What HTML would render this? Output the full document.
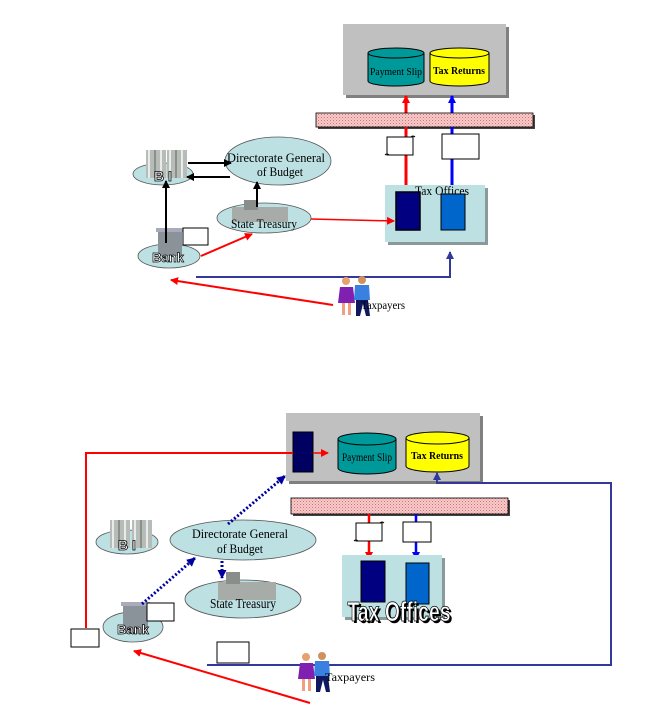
<!DOCTYPE html>
<html><head><meta charset="utf-8"><style>
html,body{margin:0;padding:0;background:#fff;width:666px;height:728px;overflow:hidden}
svg{display:block}
.s{font-family:"Liberation Serif",serif}
.b{font-family:"Liberation Sans",sans-serif;font-weight:bold}
</style></head><body>
<svg width="666" height="728" viewBox="0 0 666 728" xmlns="http://www.w3.org/2000/svg">
<defs>
<pattern id="h" width="3" height="3" patternUnits="userSpaceOnUse">
<rect width="3" height="3" fill="#f6caca"/><rect width="1" height="1" fill="#d87070"/><rect x="1.5" y="1.5" width="1" height="1" fill="#e09090"/>
</pattern>
<marker id="ar" markerWidth="8" markerHeight="8" refX="7" refY="4" orient="auto" markerUnits="userSpaceOnUse"><path d="M0,0 L8,4 L0,8 z" fill="#f00"/></marker>
<marker id="ab" markerWidth="8" markerHeight="8" refX="7" refY="4" orient="auto" markerUnits="userSpaceOnUse"><path d="M0,0 L8,4 L0,8 z" fill="#00f"/></marker>
<marker id="ak" markerWidth="8" markerHeight="8" refX="7" refY="4" orient="auto" markerUnits="userSpaceOnUse"><path d="M0,0 L8,4 L0,8 z" fill="#000"/></marker>
<marker id="an" markerWidth="8" markerHeight="8" refX="7" refY="4" orient="auto" markerUnits="userSpaceOnUse"><path d="M0,0 L8,4 L0,8 z" fill="#33399a"/></marker>
<marker id="ad" markerWidth="9" markerHeight="9" refX="8" refY="4.5" orient="auto" markerUnits="userSpaceOnUse"><path d="M0,0 L9,4.5 L0,9 z" fill="#0000a0"/></marker>
<g id="bldg"><rect x="0" y="0" width="20" height="28" fill="#b8bcb8"/><rect x="2" y="0" width="2" height="28" fill="#e8ece8"/><rect x="8" y="0" width="2" height="28" fill="#8a908a"/><rect x="14" y="0" width="2" height="28" fill="#e8ece8"/></g>
<g id="person">
<circle cx="9" cy="5" r="4" fill="#e8a070"/><path d="M3,11 h13 l2,16 h-17z" fill="#8020b0"/><rect x="5" y="27" width="3" height="12" fill="#f0a080"/><rect x="11" y="27" width="3" height="12" fill="#f0a080"/>
<circle cx="25" cy="4" r="4" fill="#d09060"/><path d="M18,9 h14 l1,15 h-16z" fill="#3a80e0"/><path d="M19,24 h12 l2,16 h-4 l-3,-12 l-3,12 h-4z" fill="#101860"/>
</g>
<g id="doc"><path d="M0,0 h24 v16 l-4,4 h-20z" fill="#fff" stroke="#000" stroke-width="1"/></g>
<g id="scroll"><path d="M2,2 h26 v18 h-26z" fill="#fff" stroke="#000"/><path d="M0,20 q2,-2 4,0 M26,2 q2,-2 4,0" fill="none" stroke="#000"/></g>
</defs>

<!-- ===== TOP DIAGRAM ===== -->
<rect x="346" y="27" width="163" height="71" fill="#808080"/>
<rect x="343" y="24" width="163" height="71" fill="#c0c0c0"/>
<path d="M368,53 v28 a28,5 0 0 0 56,0 v-28" fill="#009999" stroke="#000"/>
<ellipse cx="396" cy="53" rx="28" ry="5" fill="#009999" stroke="#000"/>
<text x="396" y="75" class="s" font-size="11" text-anchor="middle" textLength="52" lengthAdjust="spacingAndGlyphs">Payment Slip</text>
<path d="M430,53 v28 a29.5,5 0 0 0 59,0 v-28" fill="#ff0" stroke="#000"/>
<ellipse cx="459.5" cy="53" rx="29.5" ry="5" fill="#ff0" stroke="#000"/>
<text x="459" y="74" class="s" font-size="10" font-weight="bold" text-anchor="middle" textLength="52" lengthAdjust="spacingAndGlyphs">Tax Returns</text>

<line x1="406" y1="113" x2="406" y2="96" stroke="#f00" stroke-width="3" marker-end="url(#ar)"/>
<line x1="452" y1="113" x2="452" y2="96" stroke="#00f" stroke-width="3" marker-end="url(#ab)"/>
<rect x="318" y="115" width="217" height="14" fill="#444"/>
<rect x="316" y="113" width="217" height="14" fill="url(#h)" stroke="#000" stroke-width="0.8"/>
<line x1="406" y1="127" x2="406" y2="186" stroke="#f00" stroke-width="3"/>
<line x1="452" y1="127" x2="452" y2="186" stroke="#00f" stroke-width="3"/>
<use href="#scroll" x="385" y="135"/>
<use href="#doc" x="442" y="134" transform="translate(0,0)"/>
<rect x="442" y="134" width="37" height="25" fill="#fff" stroke="#000"/>

<rect x="388" y="188" width="100" height="57" fill="#8a9a9a"/>
<rect x="385" y="185" width="100" height="57" fill="#bde0e3"/>
<text x="442" y="195" class="s" font-size="13" text-anchor="middle" textLength="54" lengthAdjust="spacingAndGlyphs">Tax Offices</text>
<rect x="396" y="192" width="24" height="38" fill="#000080" stroke="#000" stroke-width="1.5"/>
<rect x="441" y="194" width="24" height="36" fill="#0066cc" stroke="#000" stroke-width="1"/>

<ellipse cx="163" cy="174" rx="30" ry="11" fill="#bde0e3" stroke="#555" stroke-width="0.8"/>
<use href="#bldg" x="146" y="150"/><use href="#bldg" x="167" y="150"/>
<text x="163" y="181" class="b" font-size="14" text-anchor="middle" fill="#fff" stroke="#000" stroke-width="0.8">B I</text>
<ellipse cx="278" cy="161" rx="53" ry="24" fill="#bde0e3" stroke="#555" stroke-width="0.8"/>
<text x="276" y="162" class="s" font-size="13" text-anchor="middle" textLength="98" lengthAdjust="spacingAndGlyphs">Directorate General</text>
<text x="280" y="176" class="s" font-size="13" text-anchor="middle" textLength="46" lengthAdjust="spacingAndGlyphs">of Budget</text>
<line x1="188" y1="163" x2="231" y2="163" stroke="#000" stroke-width="2" marker-end="url(#ak)"/>
<line x1="230" y1="177" x2="187" y2="177" stroke="#000" stroke-width="2" marker-end="url(#ak)"/>
<ellipse cx="264" cy="218" rx="47" ry="15" fill="#bde0e3" stroke="#555" stroke-width="0.8"/>
<rect x="232" y="207" width="56" height="15" fill="#a8aca8"/><rect x="244" y="200" width="14" height="10" fill="#8a8e8a"/>
<text x="264" y="228" class="s" font-size="13" text-anchor="middle" textLength="66" lengthAdjust="spacingAndGlyphs">State Treasury</text>
<line x1="257" y1="207" x2="257" y2="182" stroke="#000" stroke-width="2" marker-end="url(#ak)"/>
<ellipse cx="169" cy="256" rx="31" ry="12" fill="#bde0e3" stroke="#555" stroke-width="0.8"/>
<rect x="158" y="230" width="24" height="26" fill="#8a929a"/><rect x="156" y="228" width="28" height="4" fill="#aab"/>
<text x="168" y="262" class="b" font-size="13" text-anchor="middle" fill="#fff" stroke="#000" stroke-width="0.7">Bank</text>
<line x1="166" y1="243" x2="166" y2="181" stroke="#000" stroke-width="2" marker-end="url(#ak)"/>
<rect x="183" y="228" width="25" height="17" fill="#fff" stroke="#000"/>
<line x1="201" y1="256" x2="252" y2="234" stroke="#f00" stroke-width="2" marker-end="url(#ar)"/>
<line x1="311" y1="219" x2="394" y2="221" stroke="#f00" stroke-width="1.5" marker-end="url(#ar)"/>
<polyline points="196,277 450,277 450,252" fill="none" stroke="#33399a" stroke-width="2" marker-end="url(#an)"/>
<line x1="333" y1="305" x2="171" y2="280" stroke="#f00" stroke-width="2" marker-end="url(#ar)"/>
<use href="#person" x="337" y="276"/>
<text x="383" y="309" class="s" font-size="12" text-anchor="middle" textLength="44" lengthAdjust="spacingAndGlyphs">Taxpayers</text>

<!-- ===== BOTTOM DIAGRAM ===== -->
<rect x="289" y="416" width="194" height="68" fill="#808080"/>
<rect x="286" y="413" width="194" height="68" fill="#c0c0c0"/>
<rect x="293" y="432" width="20" height="40" fill="#000060" stroke="#000"/>
<line x1="313" y1="453" x2="328" y2="453" stroke="#f00" stroke-width="1.5" marker-end="url(#ar)"/>
<path d="M338,439 v29 a29,6 0 0 0 58,0 v-29" fill="#009999" stroke="#000"/>
<ellipse cx="367" cy="439" rx="29" ry="6" fill="#009999" stroke="#000"/>
<text x="367" y="461" class="s" font-size="12" text-anchor="middle" textLength="50" lengthAdjust="spacingAndGlyphs">Payment Slip</text>
<path d="M406,438 v28 a31.5,6 0 0 0 63,0 v-28" fill="#ff0" stroke="#000"/>
<ellipse cx="437.5" cy="438" rx="31.5" ry="6" fill="#ff0" stroke="#000"/>
<text x="437" y="459" class="s" font-size="10" font-weight="bold" text-anchor="middle" textLength="52" lengthAdjust="spacingAndGlyphs">Tax Returns</text>
<polyline points="86,628 86,453 293,453" fill="none" stroke="#f00" stroke-width="2"/>
<polyline points="207,665 611,665 611,483 437,483 437,473" fill="none" stroke="#33399a" stroke-width="2" marker-end="url(#an)"/>

<rect x="293" y="500" width="217" height="16" fill="#444"/>
<rect x="291" y="498" width="217" height="16" fill="url(#h)" stroke="#000" stroke-width="0.8"/>
<line x1="369" y1="514" x2="369" y2="559" stroke="#f00" stroke-width="2.5" marker-end="url(#ar)"/>
<line x1="416" y1="514" x2="416" y2="559" stroke="#00f" stroke-width="2.5" marker-end="url(#ab)"/>
<use href="#scroll" x="354" y="521"/>
<rect x="403" y="522" width="28" height="20" fill="#fff" stroke="#000"/>

<rect x="345" y="558" width="100" height="62" fill="#8a9a9a"/>
<rect x="342" y="555" width="100" height="62" fill="#bde0e3"/>
<rect x="361" y="561" width="24" height="41" fill="#000080" stroke="#000"/>
<rect x="406" y="563" width="23" height="41" fill="#0066cc" stroke="#000"/>
<text x="401" y="623" class="b" font-size="28" text-anchor="middle" fill="#000" textLength="103" lengthAdjust="spacingAndGlyphs">Tax Offices</text>
<text x="399" y="621" class="b" font-size="28" text-anchor="middle" fill="#fff" stroke="#000" stroke-width="0.8" textLength="103" lengthAdjust="spacingAndGlyphs">Tax Offices</text>

<ellipse cx="127" cy="542" rx="31" ry="12" fill="#bde0e3" stroke="#555" stroke-width="0.8"/>
<use href="#bldg" x="110" y="520"/><use href="#bldg" x="132" y="520"/>
<text x="127" y="550" class="b" font-size="14" text-anchor="middle" fill="#fff" stroke="#000" stroke-width="0.8">B I</text>
<ellipse cx="243" cy="540" rx="73" ry="20" fill="#bde0e3" stroke="#555" stroke-width="0.8"/>
<text x="240" y="538" class="s" font-size="13" text-anchor="middle" textLength="96" lengthAdjust="spacingAndGlyphs">Directorate General</text>
<text x="240" y="553" class="s" font-size="13" text-anchor="middle" textLength="46" lengthAdjust="spacingAndGlyphs">of Budget</text>
<ellipse cx="243" cy="599" rx="58" ry="19" fill="#bde0e3" stroke="#555" stroke-width="0.8"/>
<rect x="218" y="582" width="58" height="18" fill="#a8aca8"/><rect x="226" y="572" width="14" height="12" fill="#8a8e8a"/>
<text x="243" y="608" class="s" font-size="14" text-anchor="middle" textLength="66" lengthAdjust="spacingAndGlyphs">State Treasury</text>
<ellipse cx="133" cy="627" rx="30" ry="15" fill="#bde0e3" stroke="#555" stroke-width="0.8"/>
<rect x="123" y="604" width="25" height="30" fill="#8a929a"/><rect x="121" y="602" width="29" height="4" fill="#aab"/>
<text x="133" y="634" class="b" font-size="13" text-anchor="middle" fill="#fff" stroke="#000" stroke-width="0.7">Bank</text>
<rect x="147" y="603" width="27" height="18" fill="#fff" stroke="#000"/>
<rect x="71" y="629" width="28" height="18" fill="#fff" stroke="#000"/>
<rect x="217" y="642" width="32" height="21" fill="#fff" stroke="#000"/>

<line x1="142" y1="604" x2="195" y2="558" stroke="#0000a0" stroke-width="3" stroke-dasharray="2,2" marker-end="url(#ad)"/>
<line x1="228" y1="524" x2="285" y2="476" stroke="#0000a0" stroke-width="3" stroke-dasharray="2,2" marker-end="url(#ad)"/>
<line x1="222" y1="561" x2="222" y2="578" stroke="#0000a0" stroke-width="3" stroke-dasharray="2,2" marker-end="url(#ad)"/>

<line x1="310" y1="703" x2="134" y2="651" stroke="#f00" stroke-width="2" marker-end="url(#ar)"/>
<use href="#person" x="297" y="652"/>
<text x="350" y="681" class="s" font-size="12" text-anchor="middle" textLength="50" lengthAdjust="spacingAndGlyphs">Taxpayers</text>
</svg>
</body></html>
